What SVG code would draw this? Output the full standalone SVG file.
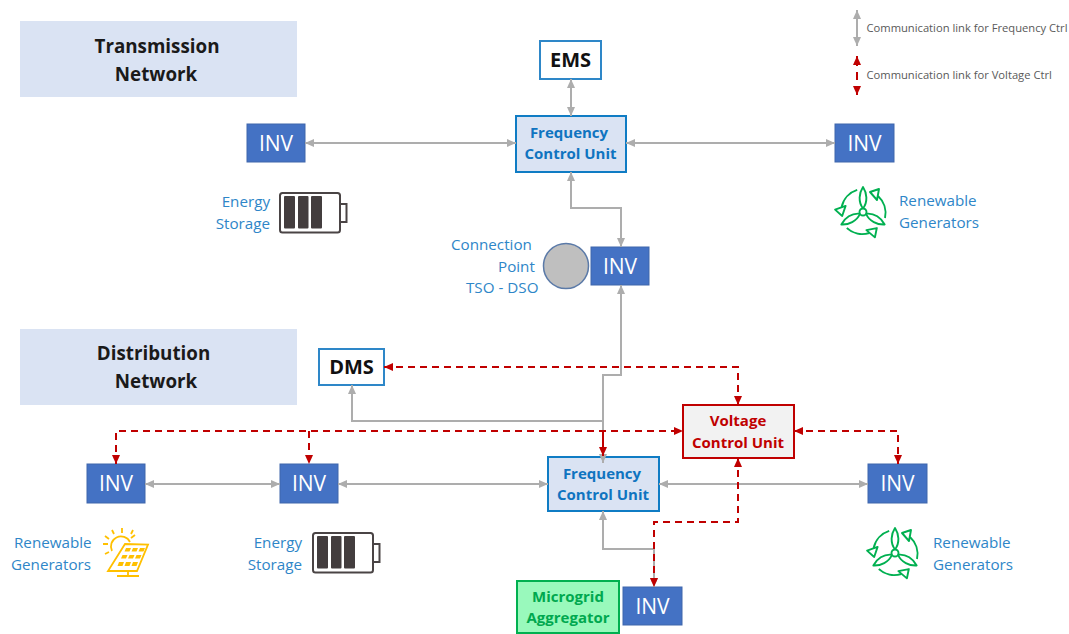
<svg xmlns="http://www.w3.org/2000/svg" xmlns:xlink="http://www.w3.org/1999/xlink" width="1069" height="634" viewBox="0 0 1069 634">
<style>
text{font-family:"Open Sans","Liberation Sans",sans-serif}
.net{fill:#dae3f3}
.nt{font-size:18.800px;font-weight:700;fill:#1a1a1a;text-anchor:middle}
.inv{fill:#4472c4;stroke:#3f66ab;stroke-width:1}
.it{font-size:21px;fill:#fff;text-anchor:middle}
.fcu{fill:#dae3f3;stroke:#0f7cc4;stroke-width:2}
.ft{font-size:15px;font-weight:700;fill:#0f74c0;text-anchor:middle}
.ms{fill:#fff;stroke:#2e87c8;stroke-width:2}
.mt{font-size:20px;font-weight:700;fill:#111;text-anchor:middle}
.vcu{fill:#f2f2f2;stroke:#c00000;stroke-width:2}
.vt{font-size:15px;font-weight:700;fill:#c00000;text-anchor:middle}
.ag{font-size:15px;font-weight:700;fill:#00a84f;text-anchor:middle}
.l{font-size:15.200px;fill:#2e86c8}
.e{text-anchor:end}
.leg{font-size:11.200px;fill:#595959}
.g{fill:none;stroke:#adadad;stroke-width:2;marker-start:url(#ga);marker-end:url(#ga)}
.gn{fill:none;stroke:#adadad;stroke-width:2}
.r{fill:none;stroke:#c00000;stroke-width:2;stroke-dasharray:7 5;marker-start:url(#ra);marker-end:url(#ra)}
.wi{fill:none;stroke:#00b050;stroke-width:1.900;stroke-linejoin:round}
.bo{fill:none;stroke:#4a4445;stroke-width:2}
.bc{fill:#433d3e}
.so{fill:none;stroke:#ffc000;stroke-width:1.800}
.sf{fill:#ffc000}
</style>
<defs>
<marker id="ga" markerUnits="userSpaceOnUse" markerWidth="10" markerHeight="10" refX="9" refY="5" orient="auto-start-reverse"><path d="M0,1 L9,5 L0,9 Z" fill="#adadad"/></marker>
<marker id="ra" markerUnits="userSpaceOnUse" markerWidth="10" markerHeight="10" refX="9" refY="5" orient="auto-start-reverse"><path d="M0,1 L9,5 L0,9 Z" fill="#c00000"/></marker>
<g id="wind" class="wi">
<g id="blade"><path d="M0,-3.500 C-5,-10 -4,-19 0,-25 C4,-19 5,-10 0,-3.500 Z"/><path d="M22,6 A23,23 0 0 0 15,-16"/><path d="M7,-20 L16,-23 L14,-12 Z"/></g>
<use xlink:href="#blade" href="#blade" transform="rotate(120)"/>
<use xlink:href="#blade" href="#blade" transform="rotate(240)"/>
<circle r="3.500" fill="#fff"/>
</g>
<g id="battery">
<rect class="bo" x="280" y="193" width="60" height="39.500" rx="2.500"/>
<path class="bo" d="M340,204 H346.500 V222 H340"/>
<rect class="bc" x="284" y="196" width="11" height="32.500" rx="1"/>
<rect class="bc" x="298" y="196" width="10.500" height="32.500" rx="1"/>
<rect class="bc" x="311" y="196" width="11" height="32.500" rx="1"/>
</g>
</defs>

<g id="transmission-network"><rect class="net" x="20" y="21" width="277" height="76"/><text class="nt" x="157" y="53">Transmission</text><text class="nt" x="156" y="81">Network</text></g>
<g id="distribution-network"><rect class="net" x="20" y="329" width="277" height="76"/><text class="nt" x="153.500" y="360">Distribution</text><text class="nt" x="156" y="388">Network</text></g>

<g id="ems"><rect class="ms" x="540" y="41" width="61" height="38"/><text class="mt" x="570.500" y="67">EMS</text></g>
<g id="dms"><rect class="ms" x="319" y="349" width="65" height="36"/><text class="mt" x="351.500" y="374">DMS</text></g>

<g id="fcu-top"><rect class="fcu" x="516" y="116" width="110" height="56"/><text class="ft" x="569" y="138">Frequency</text><text class="ft" x="570.500" y="159">Control Unit</text></g>
<g id="fcu-bottom"><rect class="fcu" x="548" y="457" width="111" height="54"/><text class="ft" x="602" y="479">Frequency</text><text class="ft" x="603" y="500">Control Unit</text></g>
<g id="vcu"><rect class="vcu" x="683" y="405" width="111" height="53"/><text class="vt" x="738" y="426">Voltage</text><text class="vt" x="738" y="448">Control Unit</text></g>

<g id="inv-t-left"><rect class="inv" x="247" y="124" width="58" height="38"/><text class="it" x="276" y="151">INV</text></g>
<g id="inv-t-right"><rect class="inv" x="835" y="124" width="59" height="38"/><text class="it" x="864.500" y="151">INV</text></g>
<g id="inv-connection"><rect class="inv" x="591" y="247" width="58" height="38"/><text class="it" x="620" y="274">INV</text></g>
<g id="inv-d-1"><rect class="inv" x="87" y="464" width="58" height="39"/><text class="it" x="116" y="491">INV</text></g>
<g id="inv-d-2"><rect class="inv" x="280" y="464" width="58" height="39"/><text class="it" x="309" y="491">INV</text></g>
<g id="inv-d-3"><rect class="inv" x="868" y="464" width="59" height="39"/><text class="it" x="897.500" y="491">INV</text></g>
<g id="inv-microgrid"><rect class="inv" x="623" y="587" width="59" height="38"/><text class="it" x="652.500" y="614">INV</text></g>

<g id="microgrid"><rect x="517" y="581" width="102" height="52" fill="#99f9bc" stroke="#00b050" stroke-width="2"/><text class="ag" x="568" y="602">Microgrid</text><text class="ag" x="568" y="623">Aggregator</text></g>

<g id="connection-point"><circle cx="566" cy="266" r="22.500" fill="#bfbfbf" stroke="#5b7aa8" stroke-width="1.500"/>
<text class="l" x="451" y="250">Connection</text><text class="l" x="498" y="272">Point</text><text class="l" x="466" y="293">TSO - DSO</text></g>

<g id="storage-top"><use xlink:href="#battery" href="#battery"/><text class="l e" x="270" y="207">Energy</text><text class="l e" x="270" y="229">Storage</text></g>
<g id="storage-bottom"><use xlink:href="#battery" href="#battery" transform="translate(33,340)"/><text class="l e" x="302" y="548">Energy</text><text class="l e" x="302" y="570">Storage</text></g>

<g id="renewable-top"><use xlink:href="#wind" href="#wind" transform="translate(863,212)"/><text class="l" x="899" y="206">Renewable</text><text class="l" x="899" y="228">Generators</text></g>
<g id="renewable-right"><use xlink:href="#wind" href="#wind" transform="translate(895,553)"/><text class="l" x="933" y="548">Renewable</text><text class="l" x="933" y="570">Generators</text></g>

<g id="renewable-solar">
<text class="l" x="14" y="548">Renewable</text><text class="l" x="11" y="570">Generators</text>
<path class="so" d="M112,551 A10,10 0 0 1 130,542"/>
<path class="so" d="M122,528 V533 M133,530 L131,534 M112,530 L114,534 M105,536 L109,539 M103,544 H108 M105,554 L109,552 M135,535 L131,538"/>
<path d="M125,544 L148,544.500 L137,571 L108,571 Z" fill="#fff" stroke="#ffc000" stroke-width="1.800"/>
<path class="sf" d="M126,548 h5 l-1.500,3.500 h-5 Z M133,548 h5 l-1.500,3.500 h-5 Z M140,548 h5 l-1.500,3.500 h-5 Z M122.500,555 h5 l-1.500,3.500 h-5 Z M129.500,555 h5 l-1.500,3.500 h-5 Z M136.500,555 h5 l-1.500,3.500 h-5 Z M119,562 h5 l-1.500,4 h-5 Z M126,562 h5 l-1.500,4 h-5 Z M133,562 h5 l-1.500,4 h-5 Z"/>
<path class="so" d="M128,571 V576 M117,576 H139"/>
</g>

<g id="legend"><text class="leg" x="866.500" y="32">Communication link for Frequency Ctrl</text><text class="leg" x="866.500" y="79">Communication link for Voltage Ctrl</text></g>

<g id="connectors">
<path class="g" d="M571,79 V116"/>
<path class="g" d="M305,143 H516"/>
<path class="g" d="M626,143 H835"/>
<path class="g" d="M571,172 V208 H621 V247"/>
<path class="g" d="M621,285 V375 H603 V463"/>
<path class="gn" style="marker-end:url(#ga)" d="M603,421 H352 V385"/>
<path class="g" d="M145,484 H280"/>
<path class="g" d="M338,484 H548"/>
<path class="g" d="M659,484 H868"/>
<path class="g" d="M654,587 V549 H603 V511"/>
<path class="g" d="M857,10 V46"/>
<path class="r" d="M384,367 H738 V405"/>
<path class="r" d="M116,464 V431 H683"/>
<path class="r" style="marker-start:none" d="M309,431 V464"/>
<path class="r" style="marker-start:none;stroke-dasharray:none" d="M603,431 V456"/>
<path class="r" d="M794,431 H898 V464"/>
<path class="r" d="M738,458 V522 H654 V587"/>
<path class="r" style="stroke-dasharray:10 6 8 6 9" d="M857,56 V95"/>
</g>
</svg>
